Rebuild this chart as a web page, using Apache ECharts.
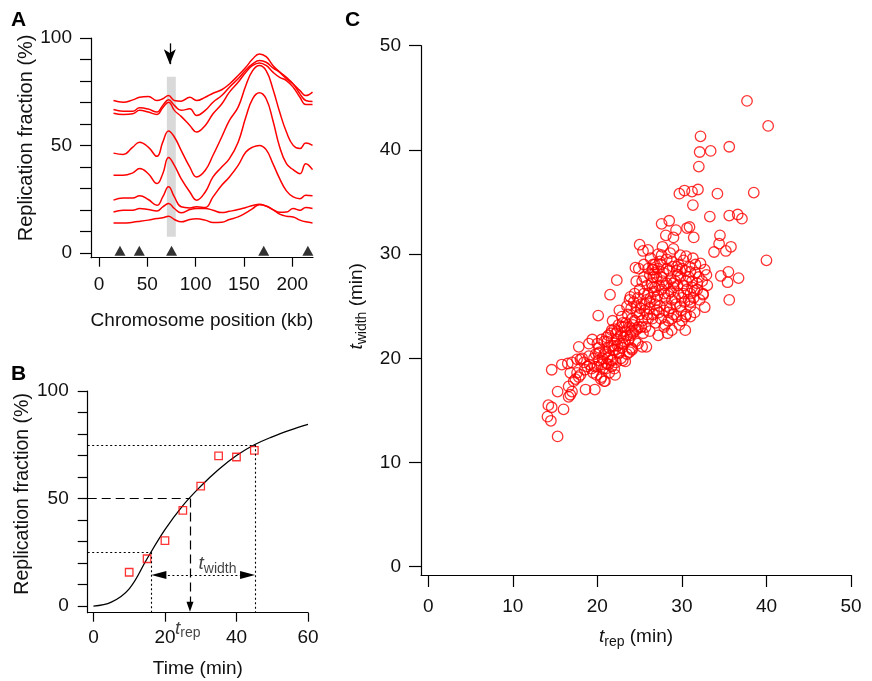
<!DOCTYPE html>
<html><head><meta charset="utf-8">
<script src="https://cdn.jsdelivr.net/npm/echarts@6/dist/echarts.min.js"></script>
<style>html,body{margin:0;padding:0;background:#fff}#c{width:872px;height:681px}</style>
</head><body><div id="c"></div>
<script>
// ---------- Panel A: replication profiles along the chromosome ----------
const positionsKb = [15,25,35,42,51,60,66,72,78,85,94,101,110,118,127,135,144,152,159,166,173,180,187,194,201,208,214,221];
const profile45 = [70.9,70.1,71.2,72.4,72.8,70.9,71.7,73.2,70.9,70.6,72.4,70.9,72.4,74.3,75.9,78.6,82.5,86.4,90.2,92.6,91.3,87.2,84.1,81.0,78.6,75.5,73.2,74.8];
const profile40 = [66.7,65.9,65.9,67.5,66.9,65.5,68.6,71.2,68.6,66.3,67.0,63.9,66.3,70.1,73.2,77.1,81.0,85.1,87.9,89.5,88.7,86.1,84.1,81.7,78.6,74.0,70.9,70.4];
const profile35 = [65.0,64.4,64.7,66.3,65.5,64.4,67.5,70.1,66.3,63.5,59.3,56.2,59.3,64.7,69.3,74.8,79.4,84.1,87.2,88.4,87.2,84.1,81.7,80.2,77.1,72.4,69.0,69.0];
const profile30 = [46.4,45.8,49.2,51.5,49.2,44.9,51.5,56.7,53.9,47.7,39.9,35.3,38.4,45.4,53.9,61.6,67.8,77.9,84.8,87.2,84.8,76.3,65.5,56.2,50.0,48.5,51.1,50.0];
const profile25 = [36.1,36.1,37.2,39.2,36.8,32.2,36.8,44.3,40.7,34.5,28.3,24.5,28.3,35.3,39.9,43.8,51.5,63.2,71.7,74.5,71.7,61.6,49.2,41.5,38.7,36.8,41.5,38.7];
const profile20 = [24.5,25.5,25.5,26.5,24.8,22.1,26.0,30.7,26.0,21.4,20.9,21.4,21.1,26.0,31.4,35.3,40.7,46.9,49.2,50.0,48.0,41.5,34.5,28.8,26.0,25.2,26.8,26.5];
const profile15 = [19.0,19.8,19.8,20.6,20.1,19.5,21.4,22.9,20.6,18.6,20.1,20.6,20.6,19.8,18.7,19.3,20.1,21.1,22.0,22.6,21.7,20.1,18.9,19.0,20.6,19.8,21.1,20.6];
const profile10 = [13.9,13.8,14.2,14.6,15.2,15.9,16.3,17.0,15.5,14.4,15.5,15.8,15.2,14.1,14.2,15.5,16.7,18.6,20.6,22.4,21.8,20.1,18.0,17.0,16.7,15.2,14.4,13.9];
const originsKb = [21.7, 41.7, 75.1, 170.5, 216.2];
const bandKb = [70.2, 79.5];
const bandLevels = [7.5, 82];
const arrowKb = 73.3, arrowTop = 97.5, arrowHeadCenter = 87.8;
const ticksAx = [0,50,100,150,200];
const ticksAy = [0,10,20,30,40,50,60,70,80,90,100];
const labelsAy = [0,50,100];

// ---------- Panel B: fraction vs time at one locus ----------
const timesMin = [10,15,20,25,30,35,40,45];
const fractionMeasured = [15.7,22.0,30.4,44.5,55.8,69.8,69.3,72.4];
const fitTimes = [0,5,10,15,20,25,30,35,40,45,50,55,60];
const fitValues = [0,1.8,8.0,22.0,35.5,46.7,55.7,63.5,70.0,75.0,78.7,81.8,84.5];
const quantileLevels = [25, 50, 75];
const quantileTimes = [16.2, 27.0, 45.2];
const widthArrowLevel = 14.4;
const ticksBx = [0,20,40,60];
const ticksBy = [0,10,20,30,40,50,60,70,80,90,100];
const labelsBy = [0,50,100];

// ---------- Panel C: t_width vs t_rep ----------
const ticksC = [0,10,20,30,40,50];
const scatterPoints = [
[15.3,12.5],[14.1,14.4],[14.5,14.0],[14.2,15.5],[14.6,15.3],[16.0,15.1],[15.3,16.8],[16.6,16.3],[16.8,16.5],[17.0,16.8],
[16.6,17.3],[14.6,18.9],[15.8,19.4],[16.5,19.5],[17.6,19.9],[17.8,21.1],[19.0,21.4],[18.6,17.0],[19.7,17.0],[20.8,17.8],
[17.4,18.0],[17.8,18.2],[17.6,18.6],[18.0,19.9],[18.5,18.9],[19.1,19.4],[19.7,19.2],[20.5,18.2],[20.9,17.8],[22.1,18.4],
[23.3,19.7],[24.1,20.8],[21.1,19.5],[21.7,19.2],[20.1,20.5],[22.5,20.5],[20.5,21.8],[21.3,22.2],[21.7,22.7],[22.9,23.0],
[24.5,22.7],[25.3,21.1],[20.1,24.1],[21.5,26.1],[22.3,27.5],[23.9,25.9],[24.5,28.7],[25.0,30.9],[25.4,30.3],[26.5,28.5],
[26.6,29.0],[21.0,19.0],[18.4,19.6],[17.0,19.6],[16.8,18.6],[18.8,19.2],[19.4,21.8],[18.2,20.0],[17.2,17.8],[18.0,18.4],
[19.9,18.4],[20.2,19.8],
[37.7,44.7],[40.2,42.3],[32.2,41.3],[32.1,39.8],[33.4,39.9],[35.6,40.3],[32.0,38.4],[29.7,35.8],[30.3,36.1],[31.2,36.0],
[31.9,36.2],[34.2,35.8],[38.5,35.9],[31.3,34.7],[33.3,33.6],[35.6,33.7],[36.6,33.8],[37.1,33.4],[34.5,31.8],[34.4,31.0],
[33.8,30.2],[35.2,30.3],[35.8,30.7],[40.0,29.4],[34.6,27.9],[35.5,28.3],[35.4,27.3],[36.7,27.7],[35.6,25.6],[32.7,24.9],
[32.5,26.1],[27.6,32.9],[28.5,33.2],[28.1,31.8],[29.3,32.3],[29.0,31.6],[30.6,32.5],[30.9,32.6],[31.4,31.6],[27.7,30.7],
[29.0,30.5],[30.5,29.8],[27.6,29.9],[28.2,29.5],[28.8,29.3],[27.4,29.3],[26.6,28.5],[29.4,28.8],[31.6,29.0],[32.2,29.1],
[32.7,28.5],[32.9,28.0],[31.0,28.3],[32.5,26.2],[32.1,25.6],[24.9,28.6],[26.8,29.0],[26.6,27.8],[30.4,22.7],[28.8,22.7],
[30.4,24.0],[25.8,21.1],[24.1,20.9],[27.2,30.0],[28.6,30.1],[29.8,29.9],[31.3,29.6],[31.8,27.2],[31.5,26.5],[31.0,25.4],
[32.4,27.4],[33.0,27.0],
[19.5,18.6],[19.8,20.4],[20.0,19.2],[20.2,21.0],[20.4,18.0],[20.6,20.0],[20.8,21.6],[19.6,20.0],[20.3,20.6],[20.7,19.0],
[21.0,20.6],[21.2,21.6],[21.4,18.6],[21.5,20.2],[21.6,22.4],[21.8,19.8],[22.0,21.2],[22.0,22.8],[21.3,19.4],[21.9,20.8],
[21.1,22.0],[21.7,21.2],[22.2,19.6],[22.3,21.8],[22.5,23.2],[22.6,20.6],[22.8,22.2],[22.9,21.0],[23.0,19.8],[22.4,22.6],
[22.7,21.4],[23.0,23.4],[22.1,20.8],[22.9,24.0],[23.2,21.6],[23.3,22.6],[23.5,20.4],[23.6,24.2],[23.7,21.8],[23.8,23.0],
[24.0,24.8],[23.4,23.4],[23.9,22.2],[24.0,21.0],[23.5,25.0],[23.1,22.0],[24.2,22.4],[24.3,25.4],[24.4,23.6],[24.5,21.6],
[24.6,24.4],[24.8,25.8],[24.9,23.0],[25.0,24.2],[24.1,23.8],[24.7,22.8],[25.0,26.6],[24.4,26.2],[25.2,25.2],[25.3,23.6],
[25.4,22.4],[25.5,26.2],[25.6,24.6],[25.8,25.6],[25.9,27.0],[26.0,23.8],[25.3,27.4],[25.7,23.0],[26.0,26.2],[25.1,24.8],
[26.1,24.8],[26.2,22.6],[26.3,25.8],[26.4,27.2],[26.6,24.2],[26.7,26.4],[26.8,25.2],[26.9,23.4],[27.0,27.8],[26.5,26.8],
[26.2,28.0],[27.0,24.6],[27.1,26.0],[27.2,22.2],[27.3,27.0],[27.4,25.0],[27.5,23.8],[27.6,26.6],[27.8,28.2],[27.9,24.6],
[28.0,25.8],[27.2,28.6],[27.7,27.4],[28.0,23.2],[28.2,27.2],[28.3,22.4],[28.4,26.2],[28.5,28.4],[28.6,24.8],[28.7,27.6],
[28.8,25.6],[29.0,26.8],[28.4,23.6],[28.9,28.8],[28.2,25.0],[29.0,24.2],[29.2,27.4],[29.3,25.2],[29.4,28.4],[29.6,26.2],
[29.7,23.2],[29.8,27.8],[30.0,25.8],[29.5,27.0],[30.0,28.6],[29.9,24.6],[30.2,27.0],[30.3,25.4],[30.4,28.4],[30.6,26.6],
[30.8,27.8],[31.0,25.0],[30.5,24.2],[30.9,28.8],[31.0,26.2],[31.2,27.4],[31.4,25.8],[31.6,28.2],[31.8,26.6],[31.5,24.4],
[32.0,27.8],
[19.0,20.2],[19.3,19.0],[20.0,21.4],[20.5,19.4],[21.2,20.0],[21.6,19.8],[22.0,19.0],[22.4,21.2],[22.8,20.0],[23.2,23.0],
[23.5,22.2],[23.8,20.6],[24.2,23.2],[24.6,25.0],[24.8,21.4],[25.2,23.0],[25.6,25.2],[25.9,24.2],[26.2,25.4],[26.5,23.8],
[26.8,26.8],[27.0,25.6],[27.3,24.4],[27.6,27.8],[27.9,26.2],[28.2,28.6],[28.4,24.4],[28.7,26.4],[29.0,27.2],[29.2,25.8],
[29.5,28.0],[29.8,25.0],[30.2,26.2],[30.5,27.4],[30.8,25.6],[31.2,26.8],[25.5,27.8],[26.0,28.6],[26.8,28.2],[24.0,22.6],
[23.0,21.4],[22.2,22.4],[21.4,21.0],[20.8,20.4],[28.0,27.0],[29.6,29.0],[30.2,29.4],[27.5,29.0],[22.6,24.6],[23.8,25.6],
[24.6,27.4],[21.8,23.6],[26.3,29.6],[26.0,30.4],[25.5,29.0],[27.9,23.0],[28.8,23.8],[29.4,24.0],[30.0,23.6],[31.0,24.0]
];

const FONT = '"Liberation Sans", Arial, Helvetica, sans-serif';
const RED = '#ff0000';
const INK = '#111111';
const FS = 19;
const richName = {
  n: {fontSize: FS, fontFamily: FONT, color: INK},
  it: {fontSize: FS, fontFamily: FONT, fontStyle: 'italic', color: INK},
  sub: {fontSize: 14, fontFamily: FONT, color: INK, padding: [10, 0, 0, 0]}
};

function valueAxis(o) {
  return {
    type: 'value', gridIndex: o.grid, min: o.min, max: o.max, position: o.pos,
    axisLine: {show: true, onZero: false, lineStyle: {color: '#000', width: 1.2}},
    axisTick: {show: true, length: o.tickLen, customValues: o.ticks, lineStyle: {color: '#000', width: 1.2}},
    axisLabel: {show: true, customValues: o.labels, margin: o.margin, color: INK, fontSize: FS, fontFamily: FONT},
    splitLine: {show: false},
    name: o.name, nameLocation: 'middle', nameGap: o.nameGap, nameRotate: o.rotate || 0,
    nameTextStyle: {fontSize: o.nameSize || FS, fontFamily: FONT, color: INK, rich: richName, padding: o.namePad || 0}
  };
}

const profiles = [profile10, profile15, profile20, profile25, profile30, profile35, profile40, profile45];
const profileSeries = profiles.map(p => ({
  type: 'line', xAxisIndex: 0, yAxisIndex: 0, silent: true, z: 3,
  data: positionsKb.map((x, i) => [x, p[i]]),
  smooth: 0.45, symbol: 'none', lineStyle: {color: RED, width: 1.5}
}));

const chart = echarts.init(document.getElementById('c'), null, {renderer: 'canvas', width: 872, height: 681});
const option = {
  animation: false,
  backgroundColor: '#ffffff',
  grid: [
    {left: 91, top: 38, width: 222, height: 219.7},
    {left: 87.7, top: 391, width: 220.3, height: 221.7},
    {left: 421, top: 45.7, width: 430, height: 529.3}
  ],
  xAxis: [
    valueAxis({grid: 0, min: -8.3, max: 221.5, pos: 'bottom', tickLen: 9, ticks: ticksAx, labels: ticksAx, margin: 18,
      name: 'Chromosome position (kb)', nameGap: 54}),
    valueAxis({grid: 1, min: -1.6, max: 60, pos: 'bottom', tickLen: 9, ticks: ticksBx, labels: ticksBx, margin: 16,
      name: 'Time (min)', nameGap: 47}),
    valueAxis({grid: 2, min: -0.86, max: 50, pos: 'bottom', tickLen: 12, ticks: ticksC, labels: ticksC, margin: 22,
      name: '{it|t}{sub|rep}{n| (min)}', nameGap: 50})
  ],
  yAxis: [
    valueAxis({grid: 0, min: -2.3, max: 100, pos: 'left', tickLen: 11, ticks: ticksAy, labels: labelsAy, margin: 19,
      name: 'Replication fraction (%)', nameGap: 52, rotate: 90, namePad: [0, 0, 0, 20], nameSize: 20}),
    valueAxis({grid: 1, min: -3.1, max: 100, pos: 'left', tickLen: 10, ticks: ticksBy, labels: labelsBy, margin: 19,
      name: 'Replication fraction (%)', nameGap: 49, rotate: 90, namePad: [0, 0, 0, 16], nameSize: 19.5}),
    valueAxis({grid: 2, min: -0.8, max: 50, pos: 'left', tickLen: 12, ticks: ticksC, labels: ticksC, margin: 20,
      name: '{it|t}{sub|width}{n| (min)}', nameGap: 52, rotate: 90, namePad: [0, 0, 0, 8]})
  ],
  series: [
    {
      type: 'line', xAxisIndex: 0, yAxisIndex: 0, data: [], silent: true, z: 1,
      markArea: {silent: true, itemStyle: {color: '#d9d9d9'},
        data: [[{coord: [bandKb[0], bandLevels[0]]}, {coord: [bandKb[1], bandLevels[1]]}]]},
      markLine: {silent: true, label: {show: false}, lineStyle: {color: '#000', width: 1.3, type: 'solid'},
        data: [[{coord: [arrowKb, arrowTop], symbol: 'none'}, {coord: [arrowKb, arrowHeadCenter], symbol: 'arrow', symbolSize: [9, 15]}]]}
    },
    ...profileSeries,
    {
      type: 'scatter', xAxisIndex: 0, yAxisIndex: 0, silent: true, z: 4,
      data: originsKb.map(x => [x, 0]), symbol: 'triangle', symbolSize: [11, 10], symbolOffset: [0, -2],
      itemStyle: {color: '#000'}
    },
    // Panel B
    {
      type: 'line', xAxisIndex: 1, yAxisIndex: 1, silent: true, z: 3,
      data: fitTimes.map((t, i) => [t, fitValues[i]]), smooth: 0.4, symbol: 'none',
      lineStyle: {color: '#000', width: 1.3}
    },
    {
      type: 'scatter', xAxisIndex: 1, yAxisIndex: 1, silent: true, z: 4,
      data: timesMin.map((t, i) => [t, fractionMeasured[i]]), symbol: 'rect', symbolSize: 7.5,
      itemStyle: {color: 'rgba(255,255,255,0)', borderColor: RED, borderWidth: 1.3}
    },
    {
      type: 'line', xAxisIndex: 1, yAxisIndex: 1, data: [], silent: true, z: 2,
      markLine: {silent: true, label: {show: false}, symbol: 'none',
        lineStyle: {color: '#000', width: 1.2, type: [9, 5]},
        data: [
          [{coord: [-1.6, quantileLevels[1]], symbol: 'none'}, {coord: [quantileTimes[1], quantileLevels[1]], symbol: 'none'}],
          [{coord: [quantileTimes[1], quantileLevels[1]], symbol: 'none'}, {coord: [quantileTimes[1], -0.3], symbol: 'triangle', symbolSize: [7, 10]}]
        ]}
    },
    {
      type: 'line', xAxisIndex: 1, yAxisIndex: 1, data: [], silent: true, z: 2,
      markLine: {silent: true, label: {show: false}, symbol: 'none',
        lineStyle: {color: '#000', width: 1.1, type: [2, 2.5]},
        data: [
          [{coord: [-1.6, quantileLevels[0]], symbol: 'none'}, {coord: [quantileTimes[0], quantileLevels[0]], symbol: 'none'}],
          [{coord: [quantileTimes[0], quantileLevels[0]], symbol: 'none'}, {coord: [quantileTimes[0], -3.1], symbol: 'none'}],
          [{coord: [-1.6, quantileLevels[2]], symbol: 'none'}, {coord: [quantileTimes[2], quantileLevels[2]], symbol: 'none'}],
          [{coord: [quantileTimes[2], quantileLevels[2]], symbol: 'none'}, {coord: [quantileTimes[2], -3.1], symbol: 'none'}],
          [{coord: [quantileTimes[0] + 2.1, widthArrowLevel], symbol: 'triangle', symbolSize: [8, 15]},
           {coord: [quantileTimes[2] - 2.1, widthArrowLevel], symbol: 'triangle', symbolSize: [8, 15]}]
        ]}
    },
    {
      type: 'scatter', xAxisIndex: 1, yAxisIndex: 1, silent: true, clip: false, z: 5,
      symbolSize: 0,
      data: [
        {value: [34.7, 19.6], label: {formatter: '{it|t}{sub|width}'}},
        {value: [26.4, -10.4], label: {formatter: '{it|t}{sub|rep}'}}
      ],
      label: {show: true, position: 'inside', rich: richName}
    },
    // Panel C
    {
      type: 'scatter', xAxisIndex: 2, yAxisIndex: 2, silent: true, z: 3,
      data: scatterPoints, symbol: 'circle', symbolSize: 10.5,
      itemStyle: {color: 'rgba(255,255,255,0)', borderColor: RED, borderWidth: 1.3}
    }
  ],
  graphic: [
    {type: 'text', left: 11, top: 10, style: {text: 'A', font: 'bold 21px ' + FONT, fill: '#000'}},
    {type: 'text', left: 11, top: 364, style: {text: 'B', font: 'bold 21px ' + FONT, fill: '#000'}},
    {type: 'text', left: 345, top: 10, style: {text: 'C', font: 'bold 21px ' + FONT, fill: '#000'}}
  ]
};
chart.setOption(option);
</script>
</body></html>
